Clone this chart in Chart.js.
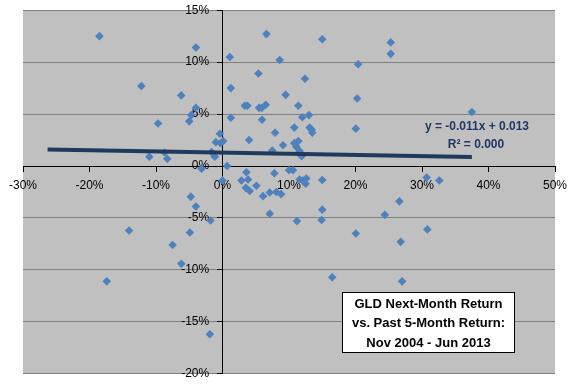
<!DOCTYPE html>
<html>
<head>
<meta charset="utf-8">
<script src="https://cdn.jsdelivr.net/npm/chart.js@4/dist/chart.umd.min.js"></script>
<style>
  html, body { margin: 0; padding: 0; background: #fff; }
  #wrap { width: 576px; height: 384px; }
</style>
</head>
<body>
<div id="wrap"><canvas id="GLDCHART"></canvas></div>
<script>
// past 5-month return (%) vs next-month return (%)
const pastReturn = [
  -18.5, -12.2, -6.2, -9.7, -11.0, -8.3, -8.7, -5.0, -4.7, -4.0,
  -4.0, -1.65, -1.15, -1.0, -0.4, 0.1, -0.3, 0.7, 1.1, 1.25,
  1.25, 3.35, 3.75, 4.0, 5.4, 5.5, 5.9, 6.5, 6.6, 5.95,
  7.5, 7.9, 8.6, 9.1, 9.5, 10.8, 10.8, 11.4, 11.1, 11.6,
  11.9, 11.4, 12.0, 12.4, 13.0, 13.1, 13.4, 13.5, 15.0, 20.4,
  20.25, 20.05, 25.3, 25.3, 37.5,
  -3.15, 0.0, 2.85, 3.6, 3.85, 3.5, 4.1, 5.1, 6.1, 7.1,
  8.1, 8.8, 7.8, 10.0, 10.6, 11.6, 12.1, 12.5, 12.6, 15.0,
  -4.77, -4.0, -4.9, -1.8, -1.9, -6.2, -7.5, -14.05, -17.4, 7.1,
  11.2, 15.0, 14.9, 16.5, 20.05, 32.6, 30.7, 26.6, 24.4, 30.8,
  26.8, 27.0
];
const nextReturn = [
  12.5, 7.7, 6.8, 4.1, 0.9, 0.7, 1.3, 4.3, 4.9, 5.6,
  11.4, 1.35, 0.9, 2.3, 3.1, 2.4, 2.2, 0.0, 10.5, 7.5,
  4.65, 5.8, 5.8, 2.5, 8.9, 5.6, 5.6, 5.9, 12.7, 4.45,
  1.5, 3.2, 10.2, 2.0, 6.85, 3.7, 2.2, 2.4, 1.85, 1.45,
  0.95, 5.8, 4.7, 8.4, 4.9, 3.7, 3.5, 3.2, 12.2, 9.8,
  6.5, 3.6, 11.9, 10.8, 5.2,
  -0.25, -1.4, -1.4, -0.6, -1.3, -2.1, -2.4, -1.9, -2.9, -2.55,
  -2.5, -2.7, -0.7, -0.4, -0.4, -1.3, -1.4, -1.7, -1.2, -1.35,
  -2.95, -3.9, -6.4, -5.25, -16.2, -9.4, -7.6, -6.2, -11.1, -4.6,
  -5.3, -4.2, -5.2, -10.7, -6.5, -1.4, -1.1, -3.4, -4.7, -6.1,
  -7.3, -11.1
];

// linear trendline end points
const trendX = [-26.3, 37.5];
const trendY = [1.59, 0.88];

const xTicks = [-30, -20, -10, 0, 10, 20, 30, 40, 50];
const yTicks = [-20, -15, -10, -5, 0, 5, 10, 15];

const equationText = 'y = -0.011x + 0.013';
const r2Text = 'R² = 0.000';
const titleLines = ['GLD Next-Month Return', 'vs. Past 5-Month Return:', 'Nov 2004 - Jun 2013'];

const points = pastReturn.map((x, i) => ({ x: x, y: nextReturn[i] }));
const trend = trendX.map((x, i) => ({ x: x, y: trendY[i] }));

Chart.defaults.font.family = "'Liberation Sans', Arial, sans-serif";
Chart.defaults.font.size = 12;
Chart.defaults.color = '#000';

const plotBackground = {
  id: 'plotBackground',
  beforeDraw(chart) {
    const { ctx, chartArea: a } = chart;
    ctx.save();
    ctx.fillStyle = '#fff';
    ctx.fillRect(0, 0, chart.width, chart.height);
    ctx.fillStyle = '#c0c0c0';
    ctx.fillRect(a.left, a.top, a.right - a.left, a.bottom - a.top);
    ctx.restore();
  }
};

const notes = {
  id: 'notes',
  afterDraw(chart) {
    const ctx = chart.ctx;
    ctx.save();
    ctx.textAlign = 'center';
    ctx.textBaseline = 'middle';
    // trendline label
    ctx.fillStyle = '#1f3864';
    ctx.font = "bold 12px 'Liberation Sans', Arial, sans-serif";
    ctx.fillText(equationText, 477, 127);
    ctx.fillText(r2Text, 476, 145);
    // title box
    ctx.fillStyle = '#fff';
    ctx.fillRect(342.5, 292.5, 172, 60);
    ctx.strokeStyle = '#000';
    ctx.lineWidth = 1;
    ctx.strokeRect(342.5, 292.5, 172, 60);
    ctx.fillStyle = '#000';
    ctx.font = "bold 13px 'Liberation Sans', Arial, sans-serif";
    titleLines.forEach((t, i) => ctx.fillText(t, 428.5, 304 + i * 19.5));
    ctx.restore();
  }
};

const ctx = document.getElementById('GLDCHART');

const gld_chart = new Chart(ctx, {
  type: 'scatter',
  data: {
    datasets: [{
      type: 'line',
      label: 'trend',
      data: trend,
      borderColor: '#203a5e',
      borderWidth: 4,
      pointRadius: 0,
      fill: false,
      order: 0
    }, {
      label: 'months',
      data: points,
      pointStyle: 'rectRot',
      pointRadius: 4.3,
      backgroundColor: '#4f81bd',
      borderColor: '#4f81bd',
      borderWidth: 0,
      order: 1
    }]
  },
  options: {
    responsive: true,
    maintainAspectRatio: false,
    animation: false,
    layout: {
      padding: { left: 23, right: 21, top: 8, bottom: 10 }
    },
    scales: {
      x: {
        type: 'linear',
        position: { y: 0 },
        min: -30,
        max: 50,
        afterBuildTicks: (axis) => { axis.ticks = xTicks.map(v => ({ value: v })); },
        ticks: {
          padding: 7,
          callback: (v) => v + '%'
        },
        grid: {
          drawOnChartArea: false,
          drawTicks: true,
          tickLength: 5,
          tickColor: '#000'
        },
        border: { display: true, color: '#000', width: 1 }
      },
      y: {
        type: 'linear',
        position: { x: 0 },
        min: -20,
        max: 15,
        afterBuildTicks: (axis) => { axis.ticks = yTicks.map(v => ({ value: v })); },
        ticks: {
          // centred axis puts labels flush on the axis line, so pad with spaces
          callback: (v) => v + '%    '
        },
        grid: {
          color: '#808080',
          lineWidth: 1,
          drawTicks: true,
          tickLength: 5,
          tickColor: '#000'
        },
        border: { display: true, color: '#000', width: 1 }
      }
    },
    plugins: {
      legend: { display: false },
      tooltip: { enabled: false }
    }
  },
  plugins: [plotBackground, notes]
});
</script>
</body>
</html>
